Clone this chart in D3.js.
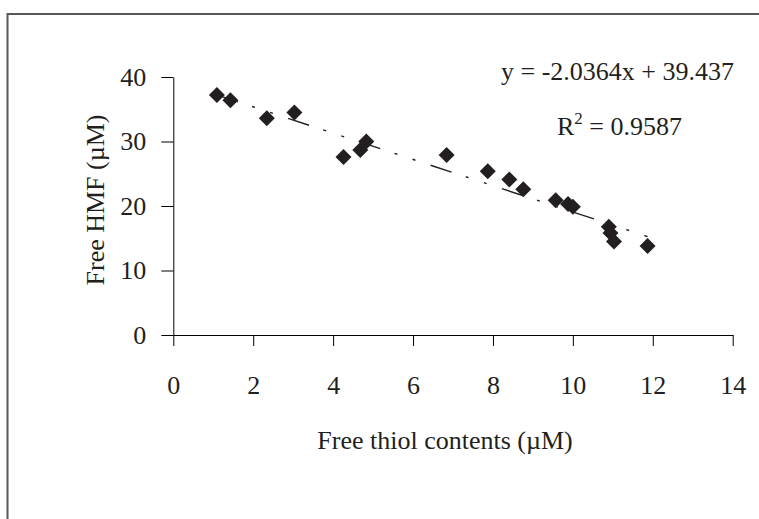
<!DOCTYPE html>
<html>
<head>
<meta charset="utf-8">
<script src="https://cdn.jsdelivr.net/npm/d3@7"></script>
<style>
	body{margin:0;padding:0;background:#ffffff;}
	svg{display:block;}
	text{font-family:"Liberation Serif","Times New Roman",serif;fill:#231f20;}
</style>
</head>
<body>
<div id="HmfWrap"></div>
<script>
(function(){

	//values
	var thiol = [1.09, 1.43, 2.34, 3.03, 4.26, 4.68, 4.83, 6.84, 7.87, 8.41, 8.76, 9.57, 9.88, 10.0, 10.9, 10.94, 11.03, 11.87];
	var hmf = [37.2, 36.4, 33.6, 34.5, 27.6, 28.7, 30.0, 27.9, 25.4, 24.1, 22.6, 20.9, 20.3, 19.9, 16.8, 15.8, 14.5, 13.8];
	var xTicks = [0, 2, 4, 6, 8, 10, 12, 14];
	var yTicks = [0, 10, 20, 30, 40];
	var trendSlope = -2.0364;
	var trendIntercept = 39.437;
	var eqLabel = "y = -2.0364x + 39.437";
	var r2Label = " = 0.9587";
	var xTitle = "Free thiol contents (\u00b5M)";
	var yTitle = "Free HMF (\u00b5M)";

	var W = 759, H = 519;
	var FONT = "26px";

	var svg = d3.select("#HmfWrap").append("svg").attr("width", W).attr("height", H);

	//outer frame, runs off the right and bottom edges
	svg.append("rect").attr("x", 7.5).attr("y", 14).attr("width", 800).attr("height", 600)
		.attr("fill", "none").attr("stroke", "#595959").attr("stroke-width", 2);

	var x = d3.scaleLinear().domain([0, 14]).range([173.3, 732.7]);
	var y = d3.scaleLinear().domain([0, 40]).range([335, 77]);

	var pts = thiol.map(function(d, i){ return {x:d, y:hmf[i]}; });

	//axes
	var xAxis = d3.axisBottom(x).tickValues(xTicks).tickSize(11).tickSizeOuter(0).tickPadding(30).tickFormat(d3.format("d"));
	var yAxis = d3.axisLeft(y).tickValues(yTicks).tickSize(12).tickSizeOuter(0).tickPadding(15).tickFormat(d3.format("d"));

	var gx = svg.append("g").attr("transform", "translate(0," + y(0) + ")").call(xAxis);
	var gy = svg.append("g").attr("transform", "translate(" + x(0) + ",0)").call(yAxis);

	[gx, gy].forEach(function(g){
		g.select(".domain").attr("stroke", "#000").attr("stroke-width", 1);
		g.selectAll(".tick line").attr("stroke", "#000").attr("stroke-width", 1);
		g.selectAll(".tick text").style("font-size", FONT).attr("fill", "#231f20")
			.style("font-family", "'Liberation Serif','Times New Roman',serif");
	});

	//trendline over the data range
	var xr = d3.extent(thiol);
	var trend = xr.map(function(d){ return {x:d, y:trendSlope*d + trendIntercept}; });
	svg.append("path").datum(trend)
		.attr("d", d3.line().x(function(d){return x(d.x)}).y(function(d){return y(d.y)}))
		.attr("fill", "none").attr("stroke", "#231f20").attr("stroke-width", 1.4)
		.attr("stroke-dasharray", "22,15,3,16,3,16");

	//diamond markers
	var diamond = d3.symbol().type(d3.symbolSquare).size(128);
	svg.append("g").selectAll("path").data(pts).enter().append("path")
		.attr("d", diamond)
		.attr("transform", function(d){ return "translate(" + x(d.x) + "," + y(d.y) + ") rotate(45)"; })
		.attr("fill", "#231f20");

	//equation and r squared
	svg.append("text").attr("x", 501).attr("y", 80).style("font-size", FONT).text(eqLabel);
	var r2 = svg.append("text").attr("x", 557).attr("y", 135).style("font-size", FONT);
	r2.append("tspan").text("R");
	r2.append("tspan").attr("dy", -11).style("font-size", "17px").text("2");
	r2.append("tspan").attr("dy", 11).text(r2Label);

	//titles
	svg.append("text").attr("x", 445).attr("y", 449).attr("text-anchor", "middle")
		.style("font-size", FONT).text(xTitle);
	svg.append("text").attr("transform", "translate(104,200) rotate(-90)").attr("text-anchor", "middle")
		.style("font-size", FONT).text(yTitle);

})();
</script>
</body>
</html>
